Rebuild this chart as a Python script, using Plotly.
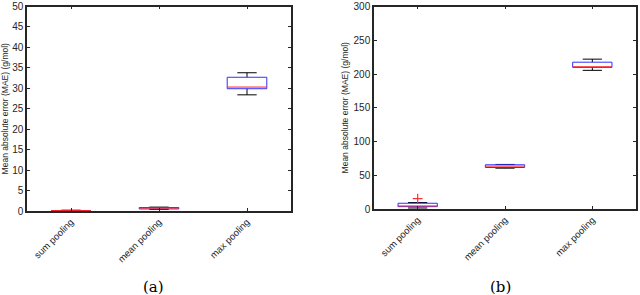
import plotly.graph_objects as go

categories = ["sum pooling", "mean pooling", "max pooling"]

# Panel (a) statistics
a_lower = [0.02, 0.4, 28.4]
a_q1 = [0.05, 0.5, 29.9]
a_median = [0.1, 0.7, 30.3]
a_q3 = [0.15, 0.85, 32.7]
a_upper = [0.2, 0.95, 33.8]

# Panel (b) statistics
b_lower = [1.5, 60.5, 205.4]
b_q1 = [3.5, 61.5, 209.8]
b_median = [4.5, 63.5, 210.7]
b_q3 = [8.5, 65.5, 217.5]
b_upper = [9.6, 66.0, 222.0]
b_outlier_x = ["sum pooling"]
b_outlier_y = [15.5]

W = 640
H = 295
BOX_HALF = 0.225
CAP_HALF = 0.11
AX_COLOR = "#262626"


def box_traces(lower, q1, med, q3, upper, xa, ya):
    wx, wy, bx, by, mx, my = [], [], [], [], [], []
    for i in range(len(categories)):
        p = i + 1
        # whiskers
        wx += [p, p, None, p, p, None]
        wy += [q3[i], upper[i], None, q1[i], lower[i], None]
        # caps
        wx += [p - CAP_HALF, p + CAP_HALF, None, p - CAP_HALF, p + CAP_HALF, None]
        wy += [upper[i], upper[i], None, lower[i], lower[i], None]
        # box
        bx += [p - BOX_HALF, p + BOX_HALF, p + BOX_HALF, p - BOX_HALF, p - BOX_HALF, None]
        by += [q1[i], q1[i], q3[i], q3[i], q1[i], None]
        # median
        mx += [p - BOX_HALF, p + BOX_HALF, None]
        my += [med[i], med[i], None]
    common = dict(mode="lines", xaxis=xa, yaxis=ya, showlegend=False, hoverinfo="skip")
    return [
        go.Scatter(x=wx, y=wy, line=dict(color="#000000", width=1), **common),
        go.Scatter(x=bx, y=by, line=dict(color="#3030ff", width=1), **common),
        go.Scatter(x=mx, y=my, line=dict(color="#ff2020", width=1), **common),
    ]


fig = go.Figure()
for t in box_traces(a_lower, a_q1, a_median, a_q3, a_upper, "x", "y"):
    fig.add_trace(t)
for t in box_traces(b_lower, b_q1, b_median, b_q3, b_upper, "x2", "y2"):
    fig.add_trace(t)

fig.add_trace(go.Scatter(
    x=[categories.index(c) + 1 for c in b_outlier_x], y=b_outlier_y,
    mode="markers", xaxis="x2", yaxis="y2", showlegend=False,
    marker=dict(symbol="cross-thin", size=7, line=dict(color="#ff3030", width=1.2)),
))

xcommon = dict(
    range=[0.5, 3.5], tickvals=[1, 2, 3], ticktext=categories, tickangle=-45,
    ticks="inside", ticklen=3, tickcolor=AX_COLOR, showline=True, linecolor=AX_COLOR,
    linewidth=1.5, mirror="ticks", showgrid=False, zeroline=False, automargin=False,
    ticklabeloverflow="allow",
    tickfont=dict(family="Liberation Sans", size=9.5, color=AX_COLOR),
)
ycommon = dict(
    ticks="inside", ticklen=3, tickcolor=AX_COLOR, showline=True, linecolor=AX_COLOR,
    linewidth=1.5, mirror="ticks", showgrid=False, zeroline=False, automargin=False,
    ticklabeloverflow="allow",
    tickfont=dict(family="Liberation Sans", size=10, color=AX_COLOR),
    title=dict(text="Mean absolute error (MAE) (g/mol)", standoff=4,
               font=dict(family="Liberation Sans", size=8.5, color=AX_COLOR)),
)

fig.update_layout(
    width=W, height=H, margin=dict(l=0, r=0, t=0, b=0, autoexpand=False),
    paper_bgcolor="white", plot_bgcolor="white",
    xaxis=dict(domain=[27 / W, 291 / W], anchor="y", **xcommon),
    yaxis=dict(domain=[(H - 211) / H, (H - 6.5) / H], anchor="x", range=[0, 50], dtick=5, **ycommon),
    xaxis2=dict(domain=[374 / W, 636 / W], anchor="y2", **xcommon),
    yaxis2=dict(domain=[(H - 209) / H, (H - 6.5) / H], anchor="x2", range=[0, 300], dtick=50, **ycommon),
    annotations=[
        dict(text="(a)", x=153 / W, y=(H - 287) / H, xref="paper", yref="paper",
             xanchor="center", yanchor="middle",
             showarrow=False, font=dict(family="DejaVu Serif", size=15, color="#000000")),
        dict(text="(b)", x=500 / W, y=(H - 287) / H, xref="paper", yref="paper",
             xanchor="center", yanchor="middle",
             showarrow=False, font=dict(family="DejaVu Serif", size=15, color="#000000")),
    ],
)

fig.write_html("out.html", config={"displayModeBar": False},
               post_script="document.body.style.margin='0';")
